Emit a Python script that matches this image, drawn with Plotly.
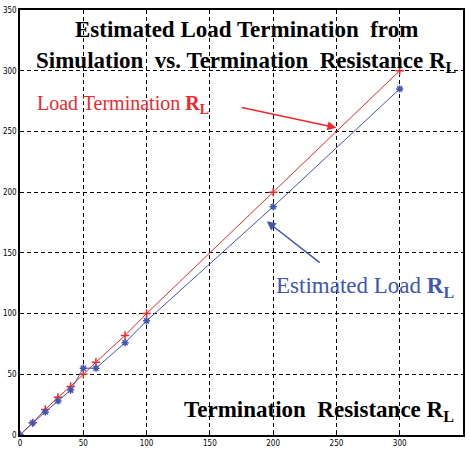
import plotly.graph_objects as go

# termination resistance (x) and values
resistance = [0, 10, 20, 30, 40, 50, 60, 83, 100, 200, 300]
load_termination = [0, 10, 21, 31, 40, 50, 60, 82, 100, 200, 300]
estimated_load = [0, 10, 19, 28, 37, 55, 55, 76, 94, 188, 285]

axis_ticks = [0, 50, 100, 150, 200, 250, 300, 350]

RED = "#f0282d"
BLUE = "#4455b0"
SERIF = "Times New Roman, Liberation Serif, serif"

fig = go.Figure()
fig.add_trace(go.Scatter(
    x=resistance, y=load_termination, mode="lines+markers",
    line=dict(color=RED, width=1),
    marker=dict(symbol="cross-thin-open", size=6, line=dict(color=RED, width=1.5)),
))
fig.add_trace(go.Scatter(
    x=resistance, y=estimated_load, mode="lines+markers",
    line=dict(color=BLUE, width=1),
    marker=dict(symbol="asterisk-open", size=6, line=dict(color=BLUE, width=1.5)),
))

# title lines and axis caption
fig.add_annotation(x=0.512, y=0.954, xref="paper", yref="paper", yanchor="middle", showarrow=False,
                   text="<b>Estimated Load Termination  from</b>",
                   font=dict(family=SERIF, size=23, color="black"))
fig.add_annotation(x=0.512, y=0.878, xref="paper", yref="paper", yanchor="middle", showarrow=False,
                   text="<b>Simulation  vs. Termination  Resistance R<sub>L</sub></b>",
                   font=dict(family=SERIF, size=23, color="black"))
fig.add_annotation(x=0.985, y=0.056, xref="paper", yref="paper", yanchor="middle", showarrow=False,
                   xanchor="right",
                   text="<b>Termination  Resistance R<sub>L</sub></b>",
                   font=dict(family=SERIF, size=23, color="black"))

# series labels with arrows
fig.add_annotation(x=250, y=253, ax=174, ay=270, xref="x", yref="y", axref="x", ayref="y",
                   showarrow=True, arrowhead=2, arrowsize=1.2, arrowwidth=1.5, arrowcolor=RED,
                   text="", standoff=0)
fig.add_annotation(x=12, y=272, xref="x", yref="y", xanchor="left", yanchor="middle", showarrow=False,
                   text="Load Termination <b>R<sub>L</sub></b>",
                   font=dict(family=SERIF, size=20, color=RED))
fig.add_annotation(x=195, y=176, ax=238, ay=141, xref="x", yref="y", axref="x", ayref="y",
                   showarrow=True, arrowhead=2, arrowsize=1.2, arrowwidth=1.5, arrowcolor=BLUE,
                   text="", standoff=0)
fig.add_annotation(x=201, y=122, xref="x", yref="y", xanchor="left", yanchor="middle", showarrow=False,
                   text="Estimated Load <b>R<sub>L</sub></b>",
                   font=dict(family=SERIF, size=23, color=BLUE))

axis_style = dict(
    tickvals=axis_ticks, range=[0, 350], automargin=False,
    showgrid=True, gridcolor="black", griddash="4px,3px", gridwidth=1,
    showline=True, linecolor="black", linewidth=1.5, mirror=True,
    ticks="inside", ticklen=3, tickcolor="black",
    zeroline=False, tickfont=dict(family="DejaVu Sans Condensed", size=8, color="black"),
)
fig.update_xaxes(**axis_style, ticklabelstandoff=0)
fig.update_yaxes(**axis_style, ticklabelstandoff=0)

fig.update_layout(
    width=469, height=450,
    margin=dict(l=20, r=6, t=10, b=15),
    plot_bgcolor="white", paper_bgcolor="white",
    showlegend=False,
)

# drop the page's default body margin so the figure sits at the window corner
fig.write_html("out.html", config={"displayModeBar": False},
               post_script="document.body.style.margin='0';")
